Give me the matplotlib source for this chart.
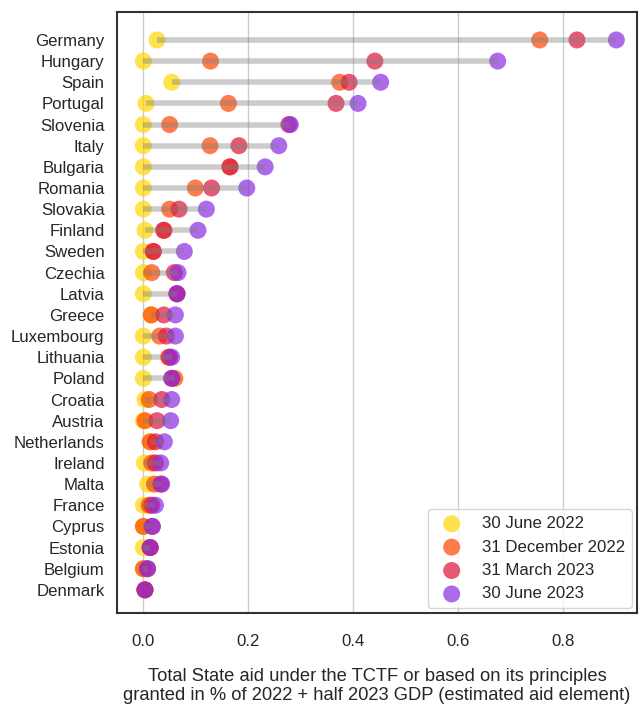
import matplotlib.pyplot as plt
import numpy as np

plt.rcParams['font.family'] = ['Liberation Sans', 'DejaVu Sans']

countries = ['Germany', 'Hungary', 'Spain', 'Portugal', 'Slovenia', 'Italy', 'Bulgaria',
             'Romania', 'Slovakia', 'Finland', 'Sweden', 'Czechia', 'Latvia', 'Greece',
             'Luxembourg', 'Lithuania', 'Poland', 'Croatia', 'Austria', 'Netherlands',
             'Ireland', 'Malta', 'France', 'Cyprus', 'Estonia', 'Belgium', 'Denmark']

# aid in % of GDP at each reporting date
jun22 = [0.026, 0.0, 0.054, 0.005, 0.0, 0.0, 0.0, 0.0, 0.0, 0.003, 0.0, 0.0, 0.0, 0.015,
         0.0, 0.0, 0.0, 0.003, 0.0, 0.013, 0.002, 0.008, 0.0, 0.0, 0.0, 0.0, 0.003]
dec22 = [0.755, 0.128, 0.374, 0.162, 0.050, 0.127, 0.165, 0.099, 0.050, 0.039, 0.019, 0.016,
         0.064, 0.015, 0.031, 0.048, 0.060, 0.011, 0.003, 0.013, 0.016, 0.021, 0.011, 0.0,
         0.013, 0.0, 0.003]
mar23 = [0.826, 0.441, 0.392, 0.367, 0.277, 0.182, 0.165, 0.130, 0.068, 0.039, 0.019, 0.059,
         0.064, 0.039, 0.044, 0.050, 0.054, 0.035, 0.026, 0.023, 0.023, 0.033, 0.016, 0.017,
         0.013, 0.008, 0.003]
jun23 = [0.901, 0.675, 0.452, 0.409, 0.280, 0.258, 0.232, 0.197, 0.120, 0.104, 0.078, 0.066,
         0.064, 0.061, 0.061, 0.054, 0.054, 0.054, 0.052, 0.040, 0.033, 0.035, 0.023, 0.017,
         0.013, 0.008, 0.003]

series = [jun22, dec22, mar23, jun23]
labels = ['30 June 2022', '31 December 2022', '31 March 2023', '30 June 2023']
colors = ['gold', 'orangered', 'crimson', 'blueviolet']

y = np.arange(len(countries))[::-1]

fig, ax = plt.subplots(figsize=(6.4, 7.08), dpi=100)
fig.subplots_adjust(left=0.183, right=0.995, top=0.983, bottom=0.134)

for vals, lab, col in zip(series, labels, colors):
    ax.scatter(vals, y, s=150, color=col, alpha=0.7, label=lab, zorder=3, edgecolors='none')

lo = np.min(series, axis=0)
hi = np.max(series, axis=0)
ax.hlines(y, lo, hi, color='grey', alpha=0.4, lw=4, zorder=4)

ax.set_yticks(y)
ax.set_yticklabels(countries)
ax.set_xticks([0, 0.2, 0.4, 0.6, 0.8])
ax.set_xlim(-0.05, 0.94)
ax.set_ylim(-1.1, len(countries) - 1 + 1.32)
ax.grid(axis='x', color='#cccccc', lw=1)
ax.set_axisbelow(True)
ax.tick_params(length=0, labelsize=12.1, colors='#262626')
ax.tick_params(axis='x', pad=15)
ax.tick_params(axis='y', pad=9)
for s in ax.spines.values():
    s.set_color('#333333')
    s.set_linewidth(1.5)

ax.set_xlabel('Total State aid under the TCTF or based on its principles\n'
              'granted in % of 2022 + half 2023 GDP (estimated aid element)',
              fontsize=13.2, color='#262626', labelpad=14, linespacing=1.1)
leg = ax.legend(loc='lower right', fontsize=12.1, borderaxespad=0.3)
for t in leg.get_texts():
    t.set_color('#262626')

plt.savefig('out.png')
